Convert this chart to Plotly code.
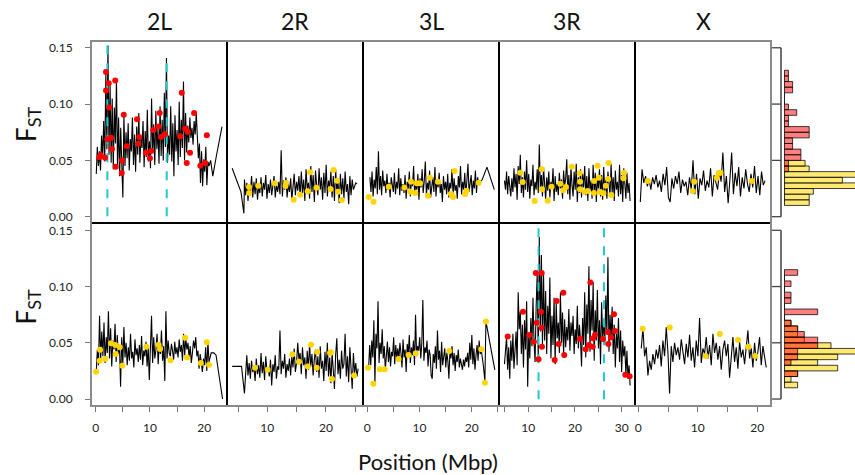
import numpy as np
import plotly.graph_objects as go

W, H = 855, 475
ARMS = ["2L", "2R", "3L", "3R", "X"]

# ---------------- axis ranges / ticks (Mbp, Fst) ----------------
XRANGE = {"2L": [-0.87, 24.22], "2R": [3.12, 26.33], "3L": [-0.82, 25.2],
          "3R": [3.73, 32.85], "X": [-0.55, 22.3]}
XTICKS = {"2L": [0, 5, 10, 15, 20], "2R": [5, 10, 15, 20, 25],
          "3L": [0, 5, 10, 15, 20, 25], "3R": [5, 10, 15, 20, 25, 30],
          "X": [0, 5, 10, 15, 20]}
YTICKS = [0.0, 0.05, 0.10, 0.15]
YRANGE_TOP = [-0.0056, 0.156]
YRANGE_BOT = [-0.0062, 0.1565]

# ---------------- TOP ROW: Fst windows ----------------
top_2L_head_x, top_2L_head_y = [], []
top_2L_span = [0.1, 20.9]
top_2L_vals = [0.038, 0.062, 0.045, 0.058, 0.041, 0.072, 0.052,
               0.085, 0.049, 0.128, 0.060, 0.152, 0.055, 0.118, 0.048,
               0.105, 0.042, 0.097, 0.065, 0.122, 0.044, 0.088, 0.036, 0.079, 0.047,
               0.017, 0.091, 0.045, 0.075, 0.052, 0.083,
               0.041, 0.069, 0.058, 0.088, 0.046, 0.073, 0.040, 0.080, 0.055, 0.092,
               0.048, 0.070, 0.061, 0.085, 0.044, 0.076, 0.053, 0.095, 0.049, 0.067,
               0.043, 0.105, 0.057, 0.082, 0.046, 0.094, 0.060, 0.078, 0.047, 0.098,
               0.054, 0.086, 0.050, 0.110, 0.062, 0.141, 0.048,
               0.072, 0.055, 0.098, 0.049, 0.083, 0.036, 0.090, 0.058, 0.077, 0.046,
               0.102, 0.053, 0.086, 0.061, 0.120, 0.050, 0.092, 0.057, 0.081,
               0.066, 0.088, 0.070, 0.079, 0.064, 0.085, 0.073, 0.092, 0.068,
               0.052, 0.065, 0.030, 0.058, 0.027, 0.051, 0.040, 0.062, 0.028, 0.049, 0.045]
top_2L_tail_x = [21.2, 21.6, 22.3, 23.3]
top_2L_tail_y = [0.050, 0.036, 0.055, 0.080]

top_2R_head_x = [4.0, 5.5, 6.0]
top_2R_head_y = [0.043, 0.022, 0.003]
top_2R_span = [6.1, 25.3]
top_2R_vals = [0.033, 0.019, 0.030, 0.014, 0.028, 0.022, 0.036, 0.017, 0.031, 0.020, 0.034, 0.015, 0.027, 0.021, 0.035,
               0.018, 0.030, 0.024, 0.037, 0.016, 0.029, 0.021, 0.033, 0.019, 0.026, 0.036, 0.017, 0.028, 0.022, 0.031,
               0.020, 0.059, 0.018, 0.032, 0.024,
               0.035, 0.017, 0.029, 0.022, 0.034, 0.015, 0.026, 0.038, 0.019, 0.031, 0.023, 0.036, 0.018, 0.040, 0.021,
               0.033, 0.014, 0.042, 0.025, 0.030,
               0.016, 0.045, 0.022, 0.037, 0.013, 0.041, 0.027, 0.019, 0.043, 0.024, 0.035, 0.015, 0.039, 0.021, 0.046,
               0.018, 0.032, 0.026, 0.040, 0.017,
               0.036, 0.014, 0.042, 0.023, 0.031, 0.012, 0.038, 0.020, 0.034, 0.016, 0.040, 0.022, 0.029, 0.011, 0.036,
               0.019, 0.033, 0.024, 0.027, 0.030, 0.029]
top_2R_tail_x, top_2R_tail_y = [], []

top_3L_head_x, top_3L_head_y = [], []
top_3L_span = [0.5, 21.3]
top_3L_vals = [0.035, 0.022, 0.040, 0.018, 0.033, 0.025, 0.044, 0.020, 0.058, 0.024, 0.036, 0.019, 0.041, 0.027,
               0.032, 0.021, 0.038, 0.024, 0.030, 0.017, 0.035, 0.026, 0.022, 0.039, 0.020, 0.031, 0.025, 0.043,
               0.019, 0.034, 0.023, 0.029,
               0.021, 0.037, 0.016, 0.031, 0.025, 0.040, 0.018, 0.033, 0.027, 0.045, 0.020, 0.030, 0.024, 0.038,
               0.015, 0.034, 0.026, 0.042, 0.021, 0.032,
               0.049, 0.019, 0.030, 0.024, 0.041, 0.017, 0.028, 0.035, 0.022, 0.044, 0.018, 0.033, 0.026, 0.039,
               0.021, 0.029, 0.013, 0.036, 0.024, 0.031,
               0.020, 0.038, 0.017, 0.030, 0.025, 0.042, 0.019, 0.034, 0.023, 0.028, 0.016, 0.036, 0.026, 0.045,
               0.020, 0.031, 0.024, 0.039, 0.018, 0.033, 0.047, 0.022, 0.029, 0.037, 0.019, 0.032, 0.025, 0.041,
               0.021, 0.035, 0.030]
top_3L_tail_x = [22.0, 22.9, 24.3]
top_3L_tail_y = [0.033, 0.044, 0.024]

top_3R_head_x, top_3R_head_y = [], []
top_3R_span = [4.9, 31.8]
top_3R_vals = [0.032, 0.024, 0.040, 0.020, 0.036, 0.027, 0.018, 0.034, 0.022, 0.043,
               0.026, 0.038, 0.015, 0.045, 0.029, 0.055, 0.021, 0.035, 0.017, 0.040, 0.024,
               0.050, 0.022, 0.038, 0.016, 0.033, 0.027, 0.046, 0.019, 0.031, 0.024, 0.042,
               0.021, 0.064, 0.025, 0.037, 0.018, 0.044, 0.028, 0.015, 0.035,
               0.023, 0.040, 0.017, 0.031, 0.026, 0.043, 0.014, 0.036, 0.022, 0.029, 0.019, 0.039, 0.025, 0.033,
               0.016, 0.041, 0.027, 0.034,
               0.051, 0.020, 0.037, 0.015, 0.044, 0.028, 0.018, 0.040, 0.024, 0.047, 0.013, 0.035, 0.021, 0.042,
               0.017, 0.038, 0.026, 0.045,
               0.019, 0.036, 0.014, 0.043, 0.023, 0.032, 0.016, 0.046, 0.021, 0.039, 0.013, 0.034, 0.025, 0.042,
               0.018, 0.037, 0.015, 0.044,
               0.022, 0.033, 0.016, 0.040, 0.026, 0.019, 0.047, 0.021, 0.035, 0.014, 0.041, 0.024, 0.031,
               0.018, 0.046, 0.020, 0.037, 0.013, 0.043, 0.025, 0.016, 0.039, 0.021, 0.030, 0.014]
top_3R_tail_x, top_3R_tail_y = [], []

top_X_head_x, top_X_head_y = [], []
top_X_span = [0.34, 21.3]
top_X_vals = [0.013, 0.042, 0.030, 0.036, 0.027, 0.033, 0.024, 0.035, 0.029,
              0.037, 0.026, 0.032, 0.022, 0.038, 0.028, 0.044, 0.017, 0.013, 0.034,
              0.025, 0.036, 0.029, 0.040, 0.021, 0.033, 0.027, 0.031, 0.019, 0.035,
              0.024, 0.050, 0.020, 0.038, 0.016, 0.034, 0.028, 0.041, 0.023, 0.032,
              0.026, 0.043, 0.018, 0.037, 0.029, 0.024, 0.040, 0.031, 0.057, 0.022,
              0.036, 0.012, 0.033, 0.057, 0.020, 0.039, 0.027, 0.044, 0.018, 0.035,
              0.025, 0.042, 0.029, 0.022, 0.038, 0.026, 0.045, 0.021, 0.036, 0.019, 0.040, 0.028, 0.032]
top_X_tail_x, top_X_tail_y = [], []

# ---------------- BOTTOM ROW: Fst windows ----------------
bot_2L_head_x, bot_2L_head_y = [], []
bot_2L_span = [0.1, 20.9]
bot_2L_vals = [0.024, 0.044, 0.030, 0.074, 0.035, 0.060,
               0.038, 0.068, 0.032, 0.055, 0.041, 0.078, 0.036, 0.063, 0.029, 0.052, 0.044,
               0.067, 0.033, 0.057, 0.040, 0.048, 0.011, 0.055, 0.031, 0.064, 0.037,
               0.050, 0.030, 0.046, 0.034, 0.058, 0.036, 0.042, 0.028, 0.053, 0.039, 0.045, 0.033,
               0.048, 0.035, 0.056, 0.030, 0.043, 0.038, 0.051, 0.029, 0.047, 0.017, 0.050, 0.074, 0.032,
               0.055, 0.036, 0.044, 0.058, 0.031, 0.049, 0.040, 0.061, 0.034, 0.047, 0.016, 0.078, 0.036, 0.052, 0.041,
               0.038, 0.049, 0.043, 0.035, 0.051, 0.040, 0.046, 0.037, 0.053, 0.042, 0.048, 0.034, 0.058, 0.039,
               0.054, 0.044, 0.050,
               0.036, 0.047, 0.032, 0.041, 0.052, 0.045, 0.055, 0.038, 0.043, 0.027, 0.040, 0.033, 0.024, 0.036,
               0.030, 0.046, 0.025, 0.051, 0.033]
bot_2L_tail_x = [21.3, 21.8, 22.2, 23.4]
bot_2L_tail_y = [0.041, 0.041, 0.039, 0.0]

bot_2R_head_x = [4.0, 5.6, 6.1]
bot_2R_head_y = [0.029, 0.029, 0.005]
bot_2R_span = [6.5, 25.5]
bot_2R_vals = [0.039, 0.021, 0.032, 0.018, 0.034, 0.024, 0.029, 0.016, 0.036, 0.022, 0.030, 0.019, 0.041,
               0.023, 0.033, 0.017, 0.038, 0.025, 0.028, 0.020, 0.035, 0.012, 0.031, 0.024, 0.039, 0.018, 0.029, 0.026,
               0.061, 0.022, 0.034, 0.027, 0.040, 0.019, 0.031, 0.025, 0.036, 0.021,
               0.038, 0.028, 0.045, 0.024, 0.032, 0.050, 0.035, 0.041, 0.022, 0.046, 0.030, 0.037, 0.018, 0.043,
               0.026, 0.049, 0.029, 0.040, 0.021, 0.035,
               0.044, 0.024, 0.038, 0.019, 0.047, 0.027, 0.034, 0.016, 0.042, 0.025, 0.050, 0.020, 0.037, 0.014,
               0.041, 0.026, 0.009, 0.039,
               0.054, 0.022, 0.035, 0.018, 0.043, 0.027, 0.031, 0.058, 0.020, 0.038, 0.015, 0.046, 0.024, 0.009,
               0.041, 0.023, 0.032, 0.020, 0.027]
bot_2R_tail_x, bot_2R_tail_y = [], []

bot_3L_head_x, bot_3L_head_y = [], []
bot_3L_span = [0.26, 21.8]
bot_3L_vals = [0.028, 0.048, 0.030, 0.052, 0.037, 0.070, 0.014, 0.058, 0.045, 0.087, 0.032, 0.050, 0.040, 0.062,
               0.036, 0.047, 0.026, 0.044, 0.051, 0.033, 0.046, 0.029, 0.042, 0.038, 0.055, 0.031, 0.048, 0.036, 0.045,
               0.035, 0.050, 0.041, 0.028, 0.053, 0.037, 0.044, 0.024, 0.049, 0.040, 0.057, 0.032, 0.046, 0.039,
               0.052, 0.030, 0.075,
               0.038, 0.047, 0.043, 0.055, 0.036, 0.050, 0.088, 0.034, 0.046, 0.041, 0.052, 0.029, 0.044, 0.039,
               0.021, 0.018,
               0.040, 0.032, 0.047, 0.027, 0.061, 0.035, 0.043, 0.024, 0.051, 0.030, 0.038, 0.045, 0.028, 0.041,
               0.034, 0.018, 0.043,
               0.036, 0.047, 0.030, 0.041, 0.025, 0.039, 0.033, 0.044, 0.028, 0.036, 0.031, 0.026, 0.035, 0.029,
               0.037, 0.033,
               0.041, 0.028, 0.050, 0.035, 0.057, 0.031, 0.045, 0.026, 0.039, 0.048, 0.034, 0.052, 0.040, 0.044]
bot_3L_tail_x = [22.2, 22.5, 22.7, 24.4]
bot_3L_tail_y = [0.030, 0.016, 0.069, 0.026]

bot_3R_head_x, bot_3R_head_y = [], []
bot_3R_span = [4.9, 31.8]
bot_3R_vals = [0.031, 0.048, 0.055, 0.026, 0.046, 0.018, 0.052, 0.034, 0.058, 0.027,
               0.045, 0.060, 0.030, 0.095, 0.062, 0.078, 0.040, 0.066, 0.028,
               0.070, 0.044, 0.087, 0.011, 0.058, 0.036, 0.072, 0.047, 0.090, 0.051, 0.033, 0.082,
               0.112, 0.035, 0.144, 0.060, 0.128, 0.047, 0.112,
               0.052, 0.096, 0.040, 0.083, 0.058, 0.108, 0.036, 0.074, 0.048, 0.090, 0.031, 0.086, 0.054, 0.068,
               0.041, 0.095, 0.050, 0.077, 0.039,
               0.071, 0.046, 0.064, 0.052, 0.080, 0.043, 0.068, 0.056, 0.074, 0.040, 0.062, 0.049, 0.083, 0.045,
               0.066, 0.053,
               0.029, 0.072, 0.048, 0.095, 0.037, 0.084, 0.058, 0.118, 0.042, 0.088, 0.061, 0.104, 0.034, 0.079,
               0.052, 0.097, 0.045, 0.070, 0.031, 0.086, 0.055, 0.068,
               0.048, 0.092, 0.058, 0.126, 0.042, 0.075, 0.053, 0.082,
               0.040, 0.066, 0.028, 0.058, 0.045, 0.072, 0.033, 0.061, 0.024, 0.052, 0.038, 0.047, 0.021, 0.043,
               0.018, 0.030, 0.012]
bot_3R_tail_x, bot_3R_tail_y = [], []

bot_X_head_x, bot_X_head_y = [], []
bot_X_span = [0.5, 21.5]
bot_X_vals = [0.045, 0.063, 0.038, 0.046, 0.021, 0.034, 0.026, 0.040, 0.031,
              0.044, 0.036, 0.048, 0.029, 0.052, 0.038, 0.064, 0.042, 0.005, 0.047,
              0.033, 0.050, 0.039, 0.046, 0.035, 0.053, 0.041, 0.031, 0.049, 0.037, 0.057, 0.034,
              0.046, 0.028, 0.052, 0.038, 0.072, 0.032, 0.045, 0.040, 0.055, 0.036, 0.048,
              0.030, 0.058, 0.041, 0.050, 0.035, 0.047, 0.026, 0.044, 0.052, 0.038, 0.049,
              0.019, 0.041, 0.055, 0.033, 0.046, 0.027, 0.051, 0.037, 0.044, 0.031, 0.048,
              0.061, 0.036, 0.045, 0.028, 0.050, 0.034, 0.042, 0.055, 0.030, 0.047, 0.037, 0.028]
bot_X_tail_x, bot_X_tail_y = [], []

# ---------------- highlighted windows (dots) ----------------
top_2L_red_x = [0.67, 0.92, 1.72, 1.9, 1.9, 2.14, 2.4, 2.5, 2.82, 3.0, 3.6, 3.69, 4.85, 4.8, 5.17, 5.72,
                7.62, 7.86, 8.04, 9.28, 10.0, 10.26, 10.63, 11.55, 11.8, 12.05, 12.73, 15.6, 15.87, 16.5,
                16.8, 16.97, 17.4, 18.15, 19.3, 20.2, 20.5]
top_2L_red_y = [0.0527, 0.0545, 0.0524, 0.1285, 0.112, 0.0687, 0.1185, 0.097, 0.070, 0.060, 0.121, 0.0444,
                0.050, 0.0388, 0.0906, 0.0625, 0.0865, 0.0648, 0.0708, 0.0568, 0.052, 0.0583, 0.077, 0.080,
                0.092, 0.0708, 0.0732, 0.0714, 0.110, 0.078, 0.0477, 0.0755, 0.0568, 0.092, 0.0453, 0.0477, 0.0723]

top_2R_yel_x = [6.88, 6.93, 8.46, 11.3, 13.2, 13.1, 14.5, 15.6, 16.9, 17.3, 18.4, 20.8, 21.3, 21.9, 22.1, 22.7]
top_2R_yel_y = [0.0264, 0.021, 0.0275, 0.0296, 0.0299, 0.0273, 0.0151, 0.0195, 0.0225, 0.0394, 0.0258, 0.0246,
                0.0415, 0.032, 0.0222, 0.0148]

top_3L_yel_x = [0.27, 1.2, 4.1, 7.1, 8.24, 8.37, 9.2, 9.46, 10.1, 11.6, 12.0, 13.5, 16.0, 16.4, 16.7, 18.7, 19.0, 21.3]
top_3L_yel_y = [0.0175, 0.0133, 0.0266, 0.026, 0.0222, 0.0311, 0.021, 0.0296, 0.0296, 0.0186, 0.0346, 0.0311,
                0.0204, 0.0175, 0.0406, 0.0202, 0.0231, 0.0302]

top_3R_yel_x = [8.29, 8.8, 11.37, 12.87, 12.93, 14.15, 15.0, 16.85, 17.5, 18.07, 19.3, 21.0, 21.07, 21.1, 22.0,
                22.7, 24.07, 24.1, 24.86, 25.1, 25.4, 26.1, 26.6, 27.1, 27.2, 27.8, 30.5, 30.4]
top_3R_yel_y = [0.0391, 0.0308, 0.0139, 0.0421, 0.0243, 0.0142, 0.0266, 0.0293, 0.0234, 0.0264, 0.0444, 0.0385,
                0.0243, 0.0311, 0.0222, 0.0228, 0.021, 0.0317, 0.0453, 0.0346, 0.0219, 0.0208, 0.0275, 0.0335,
                0.0477, 0.0193, 0.0391, 0.0341]

top_X_yel_x = [1.58, 9.14, 9.4, 13.2, 13.5, 13.8, 19.1]
top_X_yel_y = [0.0317, 0.0228, 0.0311, 0.0344, 0.0388, 0.0391, 0.0317]

bot_2L_yel_x = [0.06, 0.73, 0.8, 1.78, 2.82, 3.62, 3.69, 4.43, 4.9, 9.34, 11.6, 11.86, 13.8, 16.5, 16.85, 19.4,
                20.5, 20.9]
bot_2L_yel_y = [0.0243, 0.034, 0.0438, 0.0358, 0.0495, 0.048, 0.040, 0.046, 0.0296, 0.0465, 0.0483, 0.0445,
                0.0344, 0.0545, 0.037, 0.032, 0.0504, 0.0305]

bot_2R_yel_x = [7.9, 10.07, 14.27, 15.4, 16.9, 17.46, 18.43, 18.53, 20.7, 20.87, 21.04, 24.8]
bot_2R_yel_y = [0.0278, 0.026, 0.0397, 0.0332, 0.029, 0.0483, 0.0278, 0.0418, 0.0409, 0.0415, 0.0178, 0.021]

bot_3L_yel_x = [0.13, 1.15, 2.43, 3.33, 6.0, 7.9, 9.27, 15.7, 21.8, 22.7, 22.5]
bot_3L_yel_y = [0.0278, 0.0136, 0.0264, 0.0264, 0.0356, 0.0391, 0.0406, 0.0427, 0.0442, 0.069, 0.0145]

bot_3R_red_x = [5.59, 8.87, 10.2, 11.2, 11.6, 11.8, 12.2, 12.7, 12.87, 12.87, 12.93, 15.65, 16.08, 16.5, 17.5,
                17.7, 21.07, 22.3, 23.0, 23.3, 23.8, 23.85, 24.3, 26.0, 27.0, 27.15, 27.7, 28.35, 28.56, 30.77, 31.7]
bot_3R_red_y = [0.0557, 0.0776, 0.0569, 0.0509, 0.112, 0.0678, 0.0353, 0.0776, 0.112, 0.0634, 0.0465, 0.0347,
                0.0871, 0.0489, 0.0945, 0.0391, 0.0533, 0.0442, 0.048, 0.1037, 0.0465, 0.054, 0.0572, 0.0533,
                0.0596, 0.0489, 0.0548, 0.0753, 0.0605, 0.0216, 0.0202]

bot_X_yel_x = [0.73, 5.28, 11.33, 13.7, 16.76, 18.5, 19.67]
bot_X_yel_y = [0.0625, 0.0637, 0.0382, 0.0578, 0.0525, 0.0465, 0.0382]

# cyan dashed candidate markers: position and peak height
top_2L_cyan_x = [2.15, 13.1]
top_2L_cyan_top = [0.152, 0.141]
bot_3R_cyan_x = [12.2, 26.2]
bot_3R_cyan_top = [0.153, 0.152]

# ---------------- marginal histograms (bin lower edges, counts) ----------------
top_hist_bin_lo = [0.010, 0.015, 0.020, 0.025, 0.030, 0.035, 0.040, 0.045, 0.050, 0.055, 0.060, 0.065,
                   0.070, 0.075, 0.080, 0.085, 0.090, 0.095, 0.100, 0.105, 0.110, 0.115, 0.120, 0.125]
top_hist_red = [0, 0, 0, 0, 0, 0, 1, 1, 4, 4, 2, 2, 6, 6, 1, 1, 3, 1, 0, 0, 2, 2, 1, 1]
top_hist_yel = [6, 6, 7, 19, 14, 18, 6, 5, 0, 0, 0, 0, 0, 0, 0, 0, 0, 0, 0, 0, 0, 0, 0, 0]

bot_hist_bin_lo = [0.010, 0.015, 0.020, 0.025, 0.030, 0.035, 0.040, 0.045, 0.050, 0.055, 0.060, 0.065,
                   0.070, 0.075, 0.080, 0.085, 0.090, 0.095, 0.100, 0.105, 0.110]
bot_hist_red = [0, 0, 2, 0, 1, 2, 2, 5, 5, 3, 2, 1, 0, 5, 0, 1, 1, 0, 1, 0, 2]
bot_hist_yel = [2, 1, 2, 8, 5, 8, 12, 7, 3, 2, 2, 1, 0, 0, 0, 0, 0, 0, 0, 0, 0]
HIST_BIN_W = 0.005

# ---------------- layout geometry (pixels) ----------------
COL_PX = [91, 227, 363, 499, 635, 771]
ROW_PX = [41, 223, 406]
HIST_X0_PX = 784.3
HIST_XMAX = {"top": 17.04, "bot": 10.6}

FONT = "Lato, 'Open Sans', sans-serif"
RED = "#FF0000"
YEL = "#FFD400"
CYAN = "#22C7CF"


def fx(p):
    return p / W


def fy(p):
    return 1 - p / H


G = globals()
fig = go.Figure()
layout = dict(width=W, height=H, margin=dict(l=0, r=0, t=0, b=0, pad=0, autoexpand=False),
              paper_bgcolor="white", plot_bgcolor="white", showlegend=False,
              hovermode=False, barmode="overlay", font=dict(family=FONT, color="#222"))
shapes = []
annotations = []

for r, row in enumerate(["top", "bot"]):
    yr = YRANGE_TOP if row == "top" else YRANGE_BOT
    for c, arm in enumerate(ARMS):
        n = r * 5 + c + 1
        xa = "x" if n == 1 else f"x{n}"
        ya = "y" if n == 1 else f"y{n}"
        key = f"{row}_{arm}"
        vals = G[key + "_vals"]
        span = G[key + "_span"]
        xs = list(G[key + "_head_x"]) + list(np.linspace(span[0], span[1], len(vals))) + list(G[key + "_tail_x"])
        ys = list(G[key + "_head_y"]) + list(vals) + list(G[key + "_tail_y"])
        fig.add_trace(go.Scatter(x=xs, y=ys, mode="lines", line=dict(color="black", width=1.1),
                                 xaxis=xa, yaxis=ya))
        if key + "_cyan_x" in G:
            for cx, ct in zip(G[key + "_cyan_x"], G[key + "_cyan_top"]):
                fig.add_trace(go.Scatter(x=[cx, cx], y=[yr[0] - 0.01, ct], mode="lines",
                                         line=dict(color=CYAN, width=2, dash="dash"),
                                         xaxis=xa, yaxis=ya))
        for tag, col in [("yel", YEL), ("red", RED)]:
            if key + f"_{tag}_x" in G:
                fig.add_trace(go.Scatter(x=G[key + f"_{tag}_x"], y=G[key + f"_{tag}_y"], mode="markers",
                                         marker=dict(color=col, size=6, line=dict(width=0)),
                                         xaxis=xa, yaxis=ya, cliponaxis=False))
        xsuf = "" if n == 1 else str(n)
        bottom = row == "bot"
        layout["xaxis" + xsuf] = dict(
            domain=[fx(COL_PX[c]), fx(COL_PX[c + 1])], range=XRANGE[arm], anchor=ya, automargin=False,
            showgrid=False, zeroline=False, showline=True, mirror=True, linecolor="black", linewidth=1,
            ticks="outside" if bottom else "", ticklen=5, tickcolor="#777", tickwidth=1,
            tickvals=XTICKS[arm] if bottom else [],
            ticktext=[str(v) if v % 10 == 0 else "" for v in XTICKS[arm]] if bottom else [],
            showticklabels=bottom, tickfont=dict(size=12, family=FONT, color="#222"),
            ticklabelstandoff=6)
        layout["yaxis" + xsuf] = dict(
            domain=[fy(ROW_PX[r + 1]), fy(ROW_PX[r])], range=yr, anchor=xa, automargin=False,
            showgrid=False, zeroline=False, showline=True, mirror=True, linecolor="black", linewidth=1,
            ticks="outside" if c == 0 else "", ticklen=5, tickcolor="#777", tickwidth=1,
            tickvals=YTICKS if c == 0 else [], ticktext=[f"{v:.2f}" for v in YTICKS] if c == 0 else [],
            showticklabels=(c == 0), tickfont=dict(size=12, family=FONT, color="#222"),
            ticklabelstandoff=10)

    # marginal histogram for this row
    n = 11 + r
    xa, ya = f"x{n}", f"y{n}"
    lo = G[f"{row}_hist_bin_lo"]
    centers = [b + HIST_BIN_W / 2 for b in lo]
    fig.add_trace(go.Bar(y=centers, x=G[f"{row}_hist_yel"], orientation="h", width=HIST_BIN_W,
                         marker=dict(color="rgba(255,215,0,0.55)", line=dict(color="rgba(0,0,0,0.75)", width=1)),
                         xaxis=xa, yaxis=ya))
    fig.add_trace(go.Bar(y=centers, x=G[f"{row}_hist_red"], orientation="h", width=HIST_BIN_W,
                         marker=dict(color="rgba(255,0,0,0.5)", line=dict(color="rgba(0,0,0,0.75)", width=1)),
                         xaxis=xa, yaxis=ya))
    layout[f"xaxis{n}"] = dict(domain=[fx(HIST_X0_PX), 1], range=[0, HIST_XMAX[row]], visible=False,
                               anchor=ya, automargin=False)
    layout[f"yaxis{n}"] = dict(domain=[fy(ROW_PX[r + 1]), fy(ROW_PX[r])], range=yr, visible=False,
                               anchor=xa, automargin=False)
    # bracket axis of the histogram
    shapes.append(dict(type="line", xref="paper", yref=ya, x0=fx(781), x1=fx(781), y0=YTICKS[0],
                       y1=YTICKS[-1], line=dict(color="#222", width=1.3)))
    for v in YTICKS:
        shapes.append(dict(type="line", xref="paper", yref=ya, x0=fx(772), x1=fx(781), y0=v, y1=v,
                           line=dict(color="#444", width=1.3)))
    # F_ST label
    annotations.append(dict(text="F<sub>ST</sub>", xref="paper", yref="paper", x=fx(27),
                            y=fy((ROW_PX[r] + ROW_PX[r + 1]) / 2 - 8), textangle=-90, showarrow=False,
                            font=dict(size=26, family=FONT, color="#111"), xanchor="center", yanchor="middle"))

# outer frame (grey)
shapes.append(dict(type="rect", xref="paper", yref="paper", x0=fx(COL_PX[0]), x1=fx(COL_PX[-1]),
                   y0=fy(ROW_PX[-1]), y1=fy(ROW_PX[0]), line=dict(color="#8a8a8a", width=2), layer="above"))

for c, arm in enumerate(ARMS):
    annotations.append(dict(text=arm, xref="paper", yref="paper", x=fx((COL_PX[c] + COL_PX[c + 1]) / 2),
                            y=fy(21), showarrow=False, xanchor="center", yanchor="middle",
                            font=dict(size=23, family=FONT, color="#111")))
annotations.append(dict(text="Position (Mbp)", xref="paper", yref="paper", x=fx(428), y=fy(461),
                        showarrow=False, xanchor="center", yanchor="middle",
                        font=dict(size=22, family=FONT, color="#111")))

layout["shapes"] = shapes
layout["annotations"] = annotations
fig.update_layout(**layout)
fig.write_html("out.html", config={"displayModeBar": False, "staticPlot": True},
               post_script="document.body.style.margin='0px';document.body.style.overflow='hidden';")
